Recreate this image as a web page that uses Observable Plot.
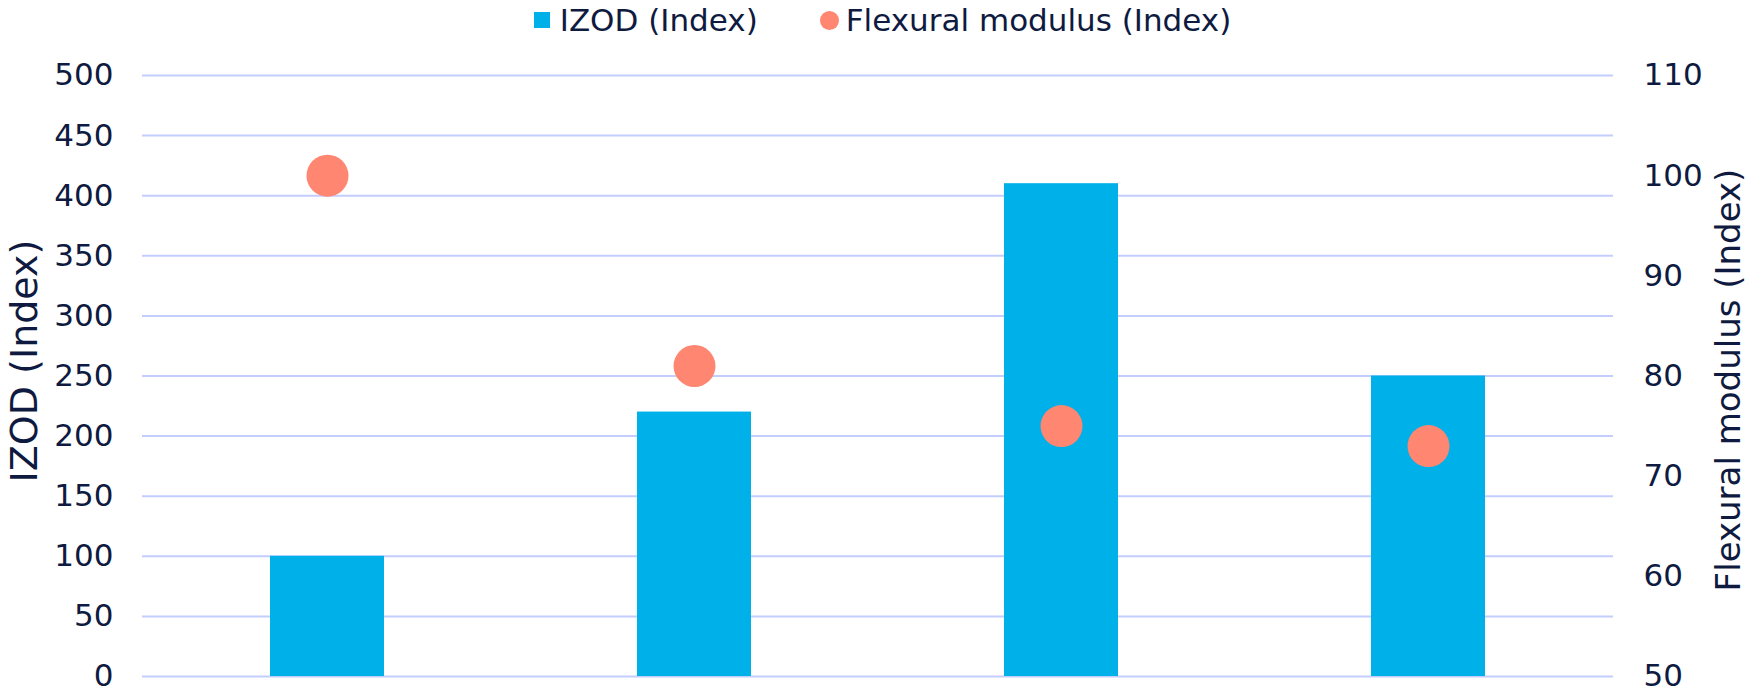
<!DOCTYPE html>
<html>
<head>
<meta charset="utf-8">
<script src="https://cdn.jsdelivr.net/npm/d3@7"></script>
<script src="https://cdn.jsdelivr.net/npm/@observablehq/plot@0.6"></script>
<style>
  html, body { margin: 0; padding: 0; background: #fff; }
  body { width: 1749px; font-family: "DejaVu Sans", sans-serif; color: #0E1A40; }
  #legend { height: 40px; display: flex; align-items: center; justify-content: center; padding-left: 16px; font-size: 31px; gap: 0; }
  .item { display: flex; align-items: center; }
  .sw { width: 16px; height: 16px; background: #00B0E8; margin-right: 10px; }
  .dt { width: 19px; height: 19px; border-radius: 50%; background: #FF8670; margin-right: 7px; }
  #chart svg { display: block; }
</style>
</head>
<body>
<div id="legend">
  <div class="item" style="margin-right:62px"><div class="sw"></div><span>IZOD (Index)</span></div>
  <div class="item"><div class="dt"></div><span>Flexural modulus (Index)</span></div>
</div>
<div id="chart"></div>
<script>
const categories = ["Sample 1", "Sample 2", "Sample 3", "Sample 4"];
const izodValues = [100, 220, 410, 250];
const flexValues = [100, 81, 75, 73];
const leftTicks = [0, 50, 100, 150, 200, 250, 300, 350, 400, 450, 500];
const rightTicks = [50, 60, 70, 80, 90, 100, 110];

const rightMin = 50, rightMax = 110, leftMax = 500;
const toLeft = v => (v - rightMin) * leftMax / (rightMax - rightMin);
const fromLeft = t => Math.round(t * (rightMax - rightMin) / leftMax + rightMin);

const data = categories.map((c, i) => ({cat: c, izod: izodValues[i], flex: flexValues[i]}));
const textColor = "#0E1A40";

const chart = Plot.plot({
  width: 1749,
  height: 656,
  marginTop: 35,
  marginBottom: 20,
  marginLeft: 142,
  marginRight: 136,
  style: {fontFamily: "DejaVu Sans, sans-serif", color: textColor, background: "#fff"},
  x: {domain: categories, paddingInner: 0.69, paddingOuter: 0.345, axis: null},
  y: {domain: [0, leftMax], axis: null},
  marks: [
    Plot.gridY(leftTicks, {stroke: "#C3CEFF", strokeOpacity: 1, strokeWidth: 2}),
    Plot.barY(data, {x: "cat", y: "izod", fill: "#00B0E8"}),
    Plot.dot(data, {x: "cat", y: d => toLeft(d.flex), r: 21, fill: "#FF8670", stroke: "none"}),
    Plot.axisY(leftTicks, {anchor: "left", tickSize: 0, tickPadding: 29, fontSize: 31, label: null, fill: textColor}),
    Plot.axisY(rightTicks.map(toLeft), {anchor: "right", tickSize: 0, tickPadding: 30, fontSize: 31, label: null, fill: textColor, tickFormat: fromLeft}),
    Plot.text(["IZOD (Index)"], {frameAnchor: "left", textAnchor: "middle", lineAnchor: "middle", dx: -118, dy: -15, rotate: -90, fontSize: 38, fill: textColor}),
    Plot.text(["Flexural modulus (Index)"], {frameAnchor: "right", textAnchor: "middle", lineAnchor: "middle", dx: 116, dy: 4, rotate: -90, fontSize: 34, fill: textColor})
  ]
});
document.getElementById("chart").appendChild(chart);
</script>
</body>
</html>
